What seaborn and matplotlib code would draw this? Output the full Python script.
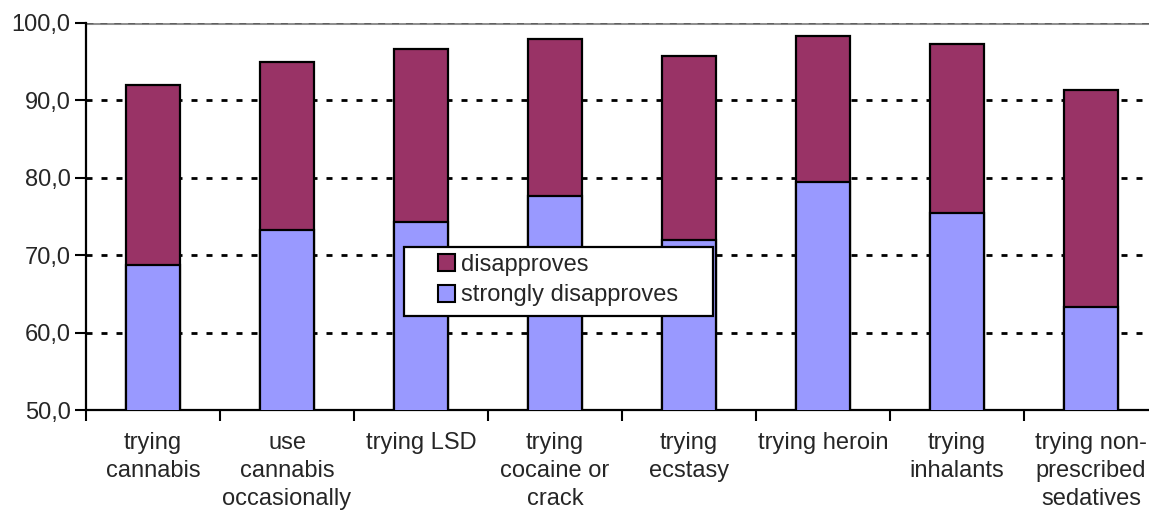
import matplotlib
matplotlib.use("Agg")
import matplotlib.pyplot as plt
import seaborn as sns
import numpy as np
import pandas as pd
from matplotlib.patches import Patch, Rectangle
from matplotlib.ticker import FixedLocator, FuncFormatter

categories = ["trying\ncannabis", "use\ncannabis\noccasionally", "trying LSD",
              "trying\ncocaine or\ncrack", "trying\necstasy", "trying heroin",
              "trying\ninhalants", "trying non-\nprescribed\nsedatives"]
strongly_disapproves = [68.7, 73.2, 74.3, 77.7, 71.9, 79.5, 75.4, 63.3]
disapproves = [23.3, 21.8, 22.3, 20.2, 23.8, 18.8, 21.9, 28.0]
y_ticks = [50, 60, 70, 80, 90, 100]

c_strong = "#9999FF"
c_dis = "#993366"

sns.set_style("white")
plt.rcParams['font.family'] = ['Liberation Sans', 'DejaVu Sans']

df = pd.DataFrame({
    "category": categories,
    "strong": strongly_disapproves,
    "total": np.array(strongly_disapproves) + np.array(disapproves),
})

W, H = 1149, 514
L, R, T, B = 86, 1158, 23, 410
fig = plt.figure(figsize=(W / 100, H / 100), dpi=100)
ax = fig.add_axes([L / W, 1 - B / H, (R - L) / W, (B - T) / H])

def ax_x(px):
    return (px - L) / (R - L)

def ax_y(py):
    return (B - py) / (B - T)

# gridlines
for v in [60, 70, 80, 90]:
    ax.axhline(v, color="black", lw=2.0, linestyle=(0, (2.16, 3.24)), zorder=0)
ax.axhline(100, color="#909090", lw=2.2, zorder=0)
ax.axhline(100, color="#606060", lw=1.0, linestyle=(0, (5, 5)), zorder=0)

sns.barplot(data=df, x="category", y="total", color=c_dis, width=0.4,
            edgecolor="black", linewidth=1.6, saturation=1, ax=ax, zorder=2)
sns.barplot(data=df, x="category", y="strong", color=c_strong, width=0.4,
            edgecolor="black", linewidth=1.6, saturation=1, ax=ax, zorder=3)

ax.set_ylim(50, 100)
ax.set_xlim(-0.5, len(categories) - 0.5)
ax.set_yticks(y_ticks)
ax.yaxis.set_major_formatter(FuncFormatter(lambda v, p: f"{v:.1f}".replace(".", ",")))
ax.set_xlabel("")
ax.set_ylabel("")

ax.tick_params(axis="y", which="major", direction="out", length=8, width=1.5,
               color="black", labelsize=17, pad=3, left=True)
ax.tick_params(axis="x", which="major", length=0, labelsize=17, pad=16)
ax.xaxis.set_minor_locator(FixedLocator(np.arange(-0.5, len(categories), 1.0)))
ax.tick_params(axis="x", which="minor", direction="out", length=8, width=1.5,
               color="black", bottom=True)
for lab in ax.get_xticklabels():
    lab.set_linespacing(1.35)

for s in ["top", "right"]:
    ax.spines[s].set_visible(False)
for s in ["left", "bottom"]:
    ax.spines[s].set_color("black")
    ax.spines[s].set_linewidth(1.6)

# legend frame
frame = Rectangle((ax_x(404), ax_y(316)), ax_x(713) - ax_x(404), ax_y(247) - ax_y(316),
                  transform=ax.transAxes, facecolor="white", edgecolor="black",
                  lw=1.6, zorder=5)
ax.add_patch(frame)

handles = [Patch(facecolor=c_dis, edgecolor="black", lw=1.5, label="disapproves"),
           Patch(facecolor=c_strong, edgecolor="black", lw=1.5, label="strongly disapproves")]
leg = ax.legend(handles=handles, loc="center left",
                bbox_to_anchor=(ax_x(438), ax_y(280)),
                fontsize=17, frameon=False, handlelength=0.72, handleheight=0.72,
                handletextpad=0.25, borderpad=0, labelspacing=0.38,
                borderaxespad=0)
leg.set_zorder(6)

fig.savefig("out.png", dpi=100)
